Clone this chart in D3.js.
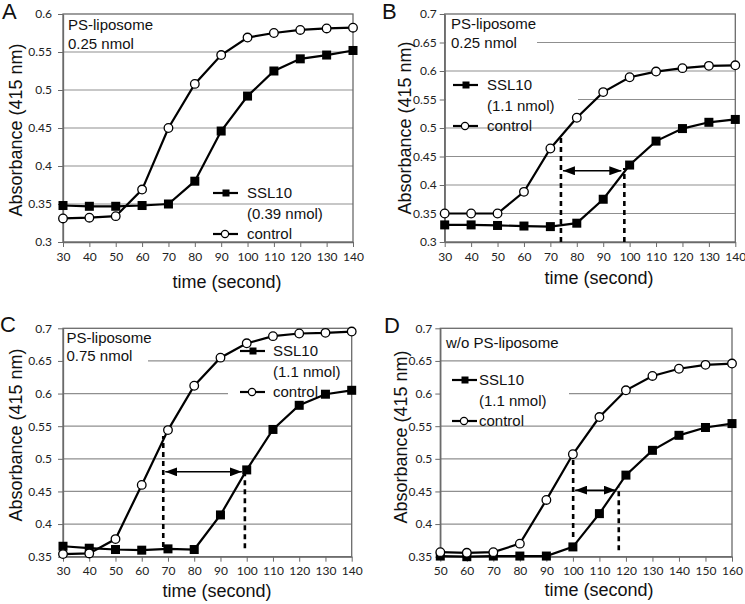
<!DOCTYPE html>
<html lang="en">
<head>
<meta charset="utf-8">
<title>SSL10 absorbance</title>
<script src="https://cdn.jsdelivr.net/npm/d3@7"></script>
<style>
	body { margin: 0; background: #fff; }
	text { font-family: "Liberation Sans", Arial, sans-serif; fill: #111; }
	.tick text { font-family: Lato, "Open Sans", sans-serif; font-size: 12px; fill: #222; }
</style>
</head>
<body>
<script>

//Time points
var timeABC = [30, 40, 50, 60, 70, 80, 90, 100, 110, 120, 130, 140];
var timeD = [50, 60, 70, 80, 90, 100, 110, 120, 130, 140, 150, 160];

//Absorbance, panel A
var sslA  = [0.348, 0.347, 0.347, 0.348, 0.350, 0.380, 0.446, 0.492, 0.525, 0.541, 0.546, 0.552];
var ctrlA = [0.331, 0.332, 0.334, 0.369, 0.450, 0.508, 0.546, 0.569, 0.575, 0.579, 0.581, 0.582];

//Panel B
var sslB  = [0.330, 0.330, 0.329, 0.328, 0.327, 0.333, 0.375, 0.435, 0.477, 0.499, 0.510, 0.515];
var ctrlB = [0.350, 0.350, 0.350, 0.388, 0.464, 0.518, 0.563, 0.589, 0.599, 0.605, 0.609, 0.610];

//Panel C
var sslC  = [0.366, 0.363, 0.361, 0.360, 0.362, 0.361, 0.414, 0.483, 0.545, 0.582, 0.599, 0.605];
var ctrlC = [0.354, 0.355, 0.377, 0.460, 0.544, 0.612, 0.655, 0.677, 0.688, 0.692, 0.693, 0.695];

//Panel D
var sslD  = [0.351, 0.350, 0.351, 0.351, 0.351, 0.365, 0.416, 0.475, 0.513, 0.536, 0.548, 0.554];
var ctrlD = [0.357, 0.356, 0.357, 0.370, 0.437, 0.507, 0.564, 0.605, 0.627, 0.638, 0.644, 0.646];

//Tick values and labels
var yTicksA = [0.3, 0.35, 0.4, 0.45, 0.5, 0.55, 0.6];
var yLabelsA = ["0.3", "0.35", "0.4", "0.45", "0.5", "0.55", "0.6"];
var yTicksB = [0.3, 0.35, 0.4, 0.45, 0.5, 0.55, 0.6, 0.65, 0.7];
var yLabelsB = ["0.3", "0.35", "0.4", "0.45", "0.5", "0.55", "0.6", "0.65", "0.7"];
var yTicksCD = [0.35, 0.4, 0.45, 0.5, 0.55, 0.6, 0.65, 0.7];
var yLabelsCD = ["0.35", "0.4", "0.45", "0.5", "0.55", "0.6", "0.65", "0.7"];
var xLabelsABC = ["30", "40", "50", "60", "70", "80", "90", "100", "110", "120", "130", "140"];
var xLabelsD = ["50", "60", "70", "80", "90", "100", "110", "120", "130", "140", "150", "160"];

//Lag guides: [time, from absorbance, to absorbance] and arrow [from time, to time, absorbance]
var guidesB = [[74, 0.3, 0.488], [98, 0.3, 0.43]];
var arrowB = [74, 98, 0.425];
var guidesC = [[68.2, 0.365, 0.535], [99.3, 0.363, 0.48]];
var arrowC = [68.2, 99.3, 0.48];
var guidesD = [[100.1, 0.38, 0.498], [117.3, 0.36, 0.457]];
var arrowD = [100.1, 117.3, 0.452];

var w = 745;
var h = 604;

var svg = d3.select("body")
			.append("svg")
			.attr("width", w)
			.attr("height", h);

//Arrow head
svg.append("defs")
	.append("marker")
	.attr("id", "head")
	.attr("markerUnits", "userSpaceOnUse")
	.attr("markerWidth", 12)
	.attr("markerHeight", 9)
	.attr("refX", 12)
	.attr("refY", 4.5)
	.attr("orient", "auto-start-reverse")
	.append("path")
	.attr("d", "M0,0 L12,4.5 L0,9 Z")
	.attr("fill", "#000");

var panels = [
	{ letter: "A", lx: 2, ly: 19, left: 63, right: 353, top: 14, bottom: 242,
	  time: timeABC, ssl: sslA, ctrl: ctrlA, xDomain: [30, 140], yDomain: [0.3, 0.6],
	  yTicks: yTicksA, yLabels: yLabelsA, xLabels: xLabelsABC, yPad: 6,
	  yTitleX: 16, yTitleY: 130, xTitleX: 227, xTitleY: 288,
	  note: ["PS-liposome", "0.25 nmol"], noteX: 68, noteY: 25,
	  legX: 213, legY: 193, legTx: 34, legText: "(0.39 nmol)", masks: [],
	  guides: [], arrow: null },
	{ letter: "B", lx: 382, ly: 19, left: 444.7, right: 735.3, top: 14, bottom: 242,
	  time: timeABC, ssl: sslB, ctrl: ctrlB, xDomain: [30, 140], yDomain: [0.3, 0.7],
	  yTicks: yTicksB, yLabels: yLabelsB, xLabels: xLabelsABC, yPad: 3,
	  yTitleX: 405, yTitleY: 128, xTitleX: 599, xTitleY: 284,
	  note: ["PS-liposome", "0.25 nmol"], noteX: 451, noteY: 24,
	  legX: 453, legY: 85, legTx: 34, legText: "(1.1 nmol)",
	  masks: [[446, 30, 91, 20], [446, 90, 132, 22]],
	  guides: guidesB, arrow: arrowB },
	{ letter: "C", lx: 0, ly: 332, left: 63, right: 351.7, top: 328.3, bottom: 556.7,
	  time: timeABC, ssl: sslC, ctrl: ctrlC, xDomain: [30, 140], yDomain: [0.35, 0.7],
	  yTicks: yTicksCD, yLabels: yLabelsCD, xLabels: xLabelsABC, yPad: 6,
	  yTitleX: 16, yTitleY: 435, xTitleX: 217, xTitleY: 597,
	  note: ["PS-liposome", "0.75 nmol"], noteX: 66.5, noteY: 337.5,
	  legX: 240, legY: 351, legTx: 33, legText: "(1.1 nmol)",
	  masks: [[64, 350, 84, 20], [228, 384, 123, 18]],
	  guides: guidesC, arrow: arrowC },
	{ letter: "D", lx: 384, ly: 333, left: 440.3, right: 732, top: 328.3, bottom: 556.7,
	  time: timeD, ssl: sslD, ctrl: ctrlD, xDomain: [50, 160], yDomain: [0.35, 0.7],
	  yTicks: yTicksCD, yLabels: yLabelsCD, xLabels: xLabelsD, yPad: 3,
	  yTitleX: 401, yTitleY: 437, xTitleX: 599, xTitleY: 596,
	  note: ["w/o PS-liposome"], noteX: 446, noteY: 343,
	  legX: 452, legY: 380, legTx: 27, legText: "(1.1 nmol)",
	  masks: [[441, 384, 128, 18]],
	  guides: guidesD, arrow: arrowD }
];

panels.forEach(drawPanel);

function drawPanel(p) {
	var xScale = d3.scaleLinear().domain(p.xDomain).range([p.left, p.right]);
	var yScale = d3.scaleLinear().domain(p.yDomain).range([p.bottom, p.top]);
	var g = svg.append("g");

	//Gridlines
	g.selectAll("line.grid")
		.data(p.yTicks.slice(1, -1))
		.enter()
		.append("line")
		.attr("class", "grid")
		.attr("x1", p.left)
		.attr("x2", p.right)
		.attr("y1", function(d) { return yScale(d); })
		.attr("y2", function(d) { return yScale(d); })
		.attr("stroke", "#8f8f8f")
		.attr("stroke-width", 1.2);

	//White boxes behind the note and legend
	p.masks.forEach(function(m) {
		g.append("rect")
			.attr("x", m[0]).attr("y", m[1])
			.attr("width", m[2]).attr("height", m[3])
			.attr("fill", "#fff");
	});

	//Plot border
	g.append("rect")
		.attr("x", p.left)
		.attr("y", p.top)
		.attr("width", p.right - p.left)
		.attr("height", p.bottom - p.top)
		.attr("fill", "none")
		.attr("stroke", "#6a6a6a")
		.attr("stroke-width", 1.3);

	//Axes
	var yAxis = d3.axisLeft(yScale)
		.tickValues(p.yTicks)
		.tickFormat(function(d, i) { return p.yLabels[i]; })
		.tickSizeInner(5)
		.tickSizeOuter(0)
		.tickPadding(p.yPad);
	var xAxis = d3.axisBottom(xScale)
		.tickValues(p.time)
		.tickFormat(function(d, i) { return p.xLabels[i]; })
		.tickSizeInner(5)
		.tickSizeOuter(0)
		.tickPadding(5);

	var ya = g.append("g")
		.attr("transform", "translate(" + p.left + ",0)")
		.call(yAxis);
	var xa = g.append("g")
		.attr("transform", "translate(0," + p.bottom + ")")
		.call(xAxis);
	[ya, xa].forEach(function(a) {
		a.select(".domain").attr("stroke", "#6a6a6a").attr("stroke-width", 1.3);
		a.selectAll(".tick line").attr("stroke", "#6a6a6a");
		a.selectAll(".tick text").attr("font-size", null).attr("font-family", null);
	});

	//Dashed lag guides
	g.selectAll("line.guide")
		.data(p.guides)
		.enter()
		.append("line")
		.attr("class", "guide")
		.attr("x1", function(d) { return xScale(d[0]); })
		.attr("x2", function(d) { return xScale(d[0]); })
		.attr("y1", function(d) { return yScale(d[1]); })
		.attr("y2", function(d) { return yScale(d[2]); })
		.attr("stroke", "#000")
		.attr("stroke-width", 2.6)
		.attr("stroke-dasharray", "5,4");

	if (p.arrow) {
		g.append("line")
			.attr("x1", xScale(p.arrow[0]) + 2)
			.attr("x2", xScale(p.arrow[1]) - 3)
			.attr("y1", yScale(p.arrow[2]))
			.attr("y2", yScale(p.arrow[2]))
			.attr("stroke", "#000")
			.attr("stroke-width", 1.5)
			.attr("marker-start", "url(#head)")
			.attr("marker-end", "url(#head)");
	}

	//Series lines
	var line = d3.line()
		.x(function(d, i) { return xScale(p.time[i]); })
		.y(function(d) { return yScale(d); });

	[p.ctrl, p.ssl].forEach(function(s) {
		g.append("path")
			.datum(s)
			.attr("d", line)
			.attr("fill", "none")
			.attr("stroke", "#000")
			.attr("stroke-width", 2.2);
	});

	//Markers
	g.selectAll("rect.ssl")
		.data(p.ssl)
		.enter()
		.append("rect")
		.attr("class", "ssl")
		.attr("x", function(d, i) { return xScale(p.time[i]) - 4.5; })
		.attr("y", function(d) { return yScale(d) - 4.5; })
		.attr("width", 9)
		.attr("height", 9)
		.attr("fill", "#000");

	g.selectAll("circle.ctrl")
		.data(p.ctrl)
		.enter()
		.append("circle")
		.attr("class", "ctrl")
		.attr("cx", function(d, i) { return xScale(p.time[i]); })
		.attr("cy", function(d) { return yScale(d); })
		.attr("r", 4.3)
		.attr("fill", "#fff")
		.attr("stroke", "#000")
		.attr("stroke-width", 1.3);

	//Legend
	var lx = p.legX, ly = p.legY, tx = lx + p.legTx;
	g.append("line")
		.attr("x1", lx).attr("x2", lx + 25)
		.attr("y1", ly).attr("y2", ly)
		.attr("stroke", "#000").attr("stroke-width", 2.2);
	g.append("rect")
		.attr("x", lx + 13 - 3.5).attr("y", ly - 3.5)
		.attr("width", 7).attr("height", 7)
		.attr("fill", "#000");
	g.append("line")
		.attr("x1", lx).attr("x2", lx + 25)
		.attr("y1", ly + 41).attr("y2", ly + 41)
		.attr("stroke", "#000").attr("stroke-width", 2.2);
	g.append("circle")
		.attr("cx", lx + 12).attr("cy", ly + 41)
		.attr("r", 3.6)
		.attr("fill", "#fff").attr("stroke", "#000").attr("stroke-width", 1.2);

	[["SSL10", 0], [p.legText, 20.5], ["control", 41]].forEach(function(t) {
		g.append("text")
			.attr("x", tx)
			.attr("y", ly + t[1])
			.attr("dy", "0.36em")
			.attr("font-size", "15px")
			.text(t[0]);
	});

	//Note
	p.note.forEach(function(t, i) {
		g.append("text")
			.attr("x", p.noteX)
			.attr("y", p.noteY + i * 18.5)
			.attr("dy", "0.36em")
			.attr("font-size", "15px")
			.text(t);
	});

	//Axis titles
	g.append("text")
		.attr("transform", "translate(" + p.yTitleX + "," + p.yTitleY + ") rotate(-90)")
		.attr("text-anchor", "middle")
		.attr("dy", "0.36em")
		.attr("font-size", "18px")
		.text("Absorbance (415 nm)");

	g.append("text")
		.attr("x", p.xTitleX)
		.attr("y", p.xTitleY)
		.attr("text-anchor", "middle")
		.attr("font-size", "18px")
		.text("time (second)");

	//Panel letter
	g.append("text")
		.attr("x", p.lx)
		.attr("y", p.ly)
		.attr("font-size", "22px")
		.text(p.letter);
}

</script>
</body>
</html>
